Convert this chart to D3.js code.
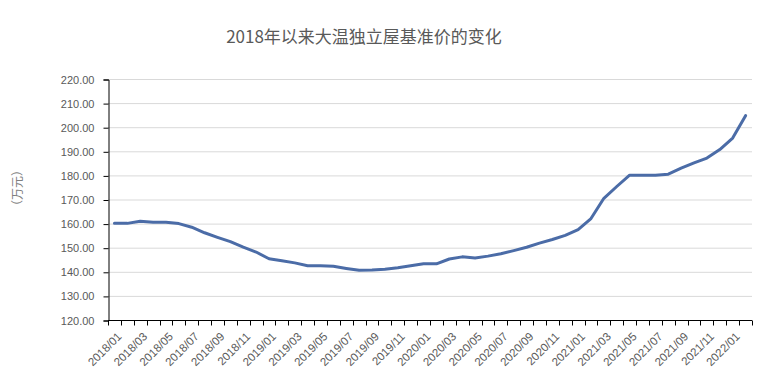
<!DOCTYPE html>
<html>
<head>
<meta charset="utf-8">
<script src="https://cdn.jsdelivr.net/npm/d3@7"></script>
<style>
  body { margin: 0; background: #fff; }
  svg { display: block; }
  .tick-label { font-family: "Liberation Sans", Arial, sans-serif; font-size: 11px; fill: #595959; }
</style>
</head>
<body>
<div class="chart"></div>
<script>
// Data
const months = [
  '2018/01','2018/02','2018/03','2018/04','2018/05','2018/06','2018/07','2018/08','2018/09','2018/10','2018/11','2018/12',
  '2019/01','2019/02','2019/03','2019/04','2019/05','2019/06','2019/07','2019/08','2019/09','2019/10','2019/11','2019/12',
  '2020/01','2020/02','2020/03','2020/04','2020/05','2020/06','2020/07','2020/08','2020/09','2020/10','2020/11','2020/12',
  '2021/01','2021/02','2021/03','2021/04','2021/05','2021/06','2021/07','2021/08','2021/09','2021/10','2021/11','2021/12',
  '2022/01','2022/02'
]
const prices = [
  160.1, 160.1, 161.0, 160.6, 160.6, 160.0, 158.5, 156.2, 154.3, 152.5, 150.2, 148.2,
  145.4, 144.6, 143.7, 142.5, 142.5, 142.3, 141.4, 140.6, 140.7, 141.1, 141.7, 142.5,
  143.3, 143.3, 145.3, 146.2, 145.7, 146.5, 147.5, 148.8, 150.2, 151.9, 153.4, 155.1,
  157.5, 162.1, 170.5, 175.4, 180.1, 180.1, 180.1, 180.5, 183.0, 185.2, 187.2, 190.7,
  195.5, 204.8
]
const yTicks = [120, 130, 140, 150, 160, 170, 180, 190, 200, 210, 220]
const title = '2018年以来大温独立屋基准价的变化'
const yTitle = '（万元）'

// Dimensions
const dimensions = {
  width: 772,
  height: 383,
  left: 108,
  right: 20,
  top: 79,
  bottom: 63
}
dimensions.ctrWidth = dimensions.width - dimensions.left - dimensions.right
dimensions.ctrHeight = dimensions.height - dimensions.top - dimensions.bottom

const svg = d3.select('.chart')
  .append('svg')
  .attr('width', dimensions.width)
  .attr('height', dimensions.height)

const ctr = svg.append('g')
  .attr('transform', `translate(${dimensions.left}, ${dimensions.top})`)

// Scales
const xScale = d3.scaleBand()
  .domain(months)
  .range([0, dimensions.ctrWidth])
  .padding(0)

const yScale = d3.scaleLinear()
  .domain([120, 220])
  .range([dimensions.ctrHeight, 0])

// Gridlines
ctr.append('g')
  .selectAll('line')
  .data(yTicks)
  .join('line')
  .attr('x1', 0)
  .attr('x2', dimensions.ctrWidth)
  .attr('y1', d => yScale(d) + 0.5)
  .attr('y2', d => yScale(d) + 0.5)
  .attr('stroke', '#d9d9d9')
  .attr('stroke-width', 1)

// Y axis
const yAxis = d3.axisLeft(yScale)
  .tickValues(yTicks)
  .tickFormat(d3.format('.2f'))
  .tickSize(5)
  .tickPadding(9)

const yAxisGroup = ctr.append('g')
  .attr('transform', 'translate(0.5, 0.5)')
  .call(yAxis)
yAxisGroup.select('.domain').attr('stroke', '#000')
yAxisGroup.selectAll('.tick line').attr('stroke', '#000')
yAxisGroup.selectAll('.tick text').attr('class', 'tick-label').attr('font-size', null).attr('font-family', null)

// X axis: line + ticks between categories
const xAxisGroup = ctr.append('g')
  .attr('transform', `translate(0, ${dimensions.ctrHeight + 0.5})`)

xAxisGroup.append('line')
  .attr('x1', 0)
  .attr('x2', dimensions.ctrWidth)
  .attr('stroke', '#000')

const boundaries = months.map(m => xScale(m)).concat([xScale(months[months.length - 1]) + xScale.bandwidth()])
xAxisGroup.selectAll('.xtick')
  .data(boundaries)
  .join('line')
  .attr('class', 'xtick')
  .attr('x1', d => Math.round(d) + 0.5)
  .attr('x2', d => Math.round(d) + 0.5)
  .attr('y1', 0)
  .attr('y2', 5)
  .attr('stroke', '#000')

// every other month is labelled
xAxisGroup.selectAll('.xlabel')
  .data(months.filter((m, i) => i % 2 === 0))
  .join('text')
  .attr('class', 'tick-label')
  .style('font-size', '11.5px')
  .attr('text-anchor', 'end')
  .attr('transform', d => `translate(${xScale(d) + xScale.bandwidth() / 2 + 2}, 11) rotate(-45)`)
  .attr('dy', '0.71em')
  .text(d => d)

// Line
const line = d3.line()
  .x((d, i) => xScale(months[i]) + xScale.bandwidth() / 2)
  .y(d => yScale(d))

ctr.append('path')
  .datum(prices)
  .attr('d', line)
  .attr('fill', 'none')
  .attr('stroke', '#4b6ca7')
  .attr('stroke-width', 3)
  .attr('stroke-linejoin', 'round')
  .attr('stroke-linecap', 'round')

// Titles
svg.append('text')
  .attr('x', 364)
  .attr('y', 43)
  .attr('text-anchor', 'middle')
  .attr('font-family', '"Noto Sans CJK SC", sans-serif')
  .attr('font-size', 17)
  .attr('fill', '#595959')
  .text(title)

svg.append('text')
  .attr('transform', 'translate(22, 188) rotate(-90)')
  .attr('text-anchor', 'middle')
  .attr('font-family', '"Noto Sans CJK SC", sans-serif')
  .attr('font-size', 12)
  .attr('fill', '#7f7f7f')
  .text(yTitle)
</script>
</body>
</html>
